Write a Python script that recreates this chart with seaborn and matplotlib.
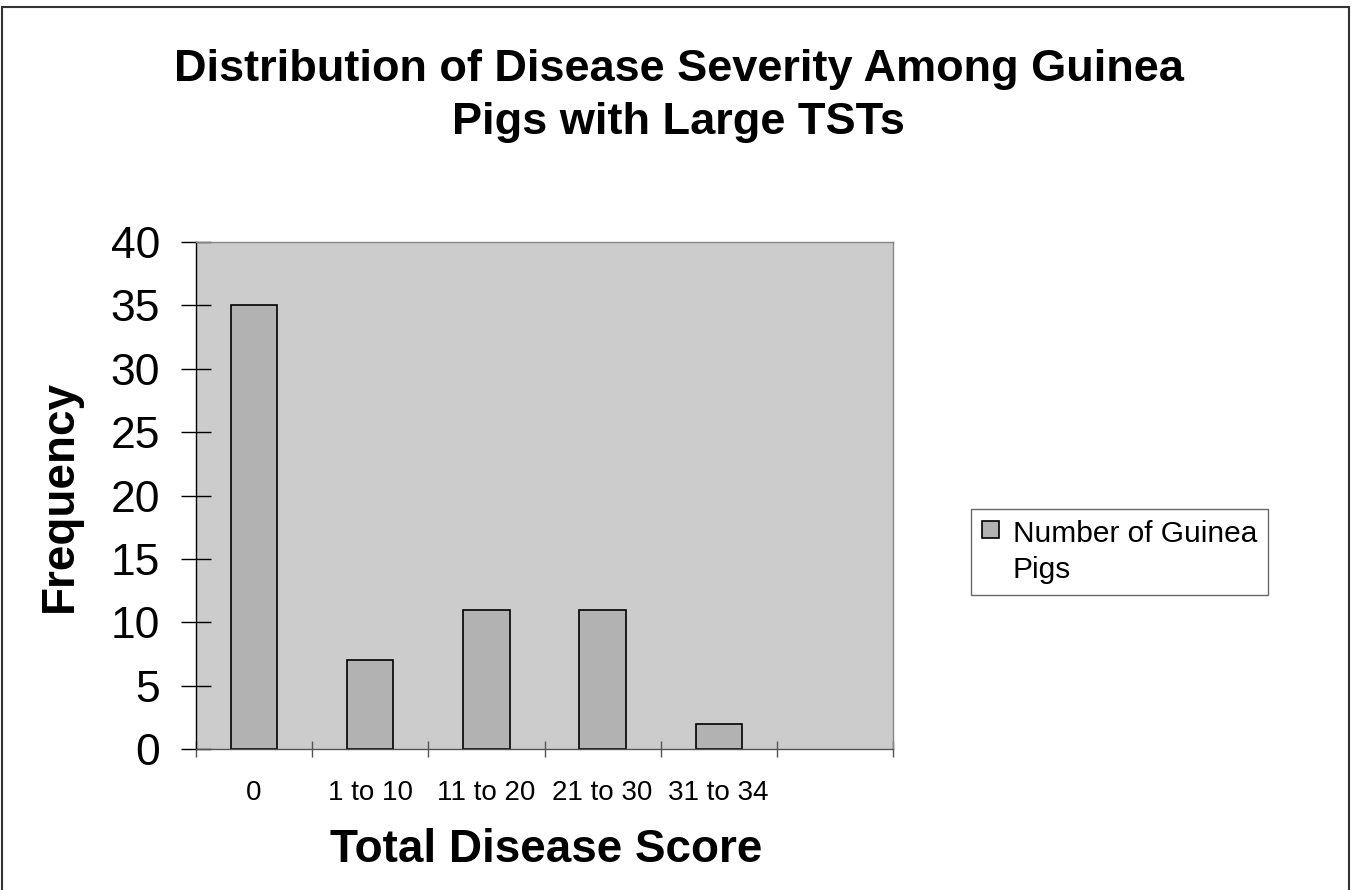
import matplotlib
matplotlib.use("Agg")
import matplotlib.pyplot as plt
from matplotlib.patches import Rectangle
from matplotlib.legend_handler import HandlerPatch
import seaborn as sns
import pandas as pd

# Disease score bins and guinea-pig counts
score_bins = ["0", "1 to 10", "11 to 20", "21 to 30", "31 to 34"]
pig_counts = [35, 7, 11, 11, 2]
series_name = "Number of Guinea\nPigs"
y_ticks = [0, 5, 10, 15, 20, 25, 30, 35, 40]

df = pd.DataFrame({"bin": score_bins, "count": pig_counts, "series": series_name})

sns.set_theme(style="white")
plt.rcParams["font.family"] = ["Liberation Sans", "DejaVu Sans"]
plt.rcParams.update({"text.color": "black", "axes.labelcolor": "black",
                     "xtick.color": "black", "ytick.color": "black"})

fig = plt.figure(figsize=(13.57, 8.9), dpi=100)
ax = fig.add_axes([196 / 1357, 141 / 890, 697 / 1357, 507 / 890])
ax.set_facecolor("#CCCCCC")

sns.barplot(data=df, x="bin", y="count", hue="series", order=score_bins,
            palette=["#B2B2B2"], width=0.4, edgecolor="black", linewidth=1.2,
            saturation=1, ax=ax, legend=True)

ax.set_xlim(-0.5, 5.5)
ax.set_ylim(0, 40)
ax.set_yticks(y_ticks)
ax.tick_params(axis="y", direction="inout", length=22, width=1, color="black",
               labelsize=32, pad=15, left=True)
ax.set_xticks(range(len(score_bins)))
ax.set_xticklabels(score_bins)
ax.set_xticks([i - 0.5 for i in range(7)], minor=True)
ax.tick_params(axis="x", which="major", length=0, labelsize=20, pad=22)
ax.tick_params(axis="x", which="minor", direction="inout", length=12, width=1,
               color="#555555", bottom=True)

for side in ["top", "right"]:
    ax.spines[side].set_visible(True)
    ax.spines[side].set_color("#888888")
    ax.spines[side].set_linewidth(1)
ax.spines["left"].set_color("black")
ax.spines["left"].set_linewidth(1)
ax.spines["bottom"].set_color("#555555")
ax.spines["bottom"].set_linewidth(1)

ax.set_ylabel("Frequency", fontsize=33, fontweight="bold", va="center")
ax.yaxis.set_label_coords((60 - 196) / 697, 0.5)
ax.set_xlabel("Total Disease Score", fontsize=33, fontweight="bold", va="center")
ax.xaxis.set_label_coords(0.503, -0.199)

fig.text(0.5, 1 - 96 / 890,
         "Distribution of Disease Severity Among Guinea\nPigs with Large TSTs",
         ha="center", va="center", fontsize=32.5, fontweight="bold", linespacing=1.4)


def first_line_square(legend, orig_handle, xdescent, ydescent, width, height, fontsize):
    side = 0.56 * fontsize
    return Rectangle((-xdescent, -ydescent + 0.8 * fontsize), side, side)


handles, labels = ax.get_legend_handles_labels()
ax.get_legend().remove()
leg = fig.legend(handles, labels, loc="center left",
                 bbox_to_anchor=(971 / 1357, 1 - 552 / 890),
                 fontsize=21.5, frameon=True, fancybox=False, shadow=False,
                 handlelength=0.56, handleheight=0.56, handletextpad=0.45,
                 borderpad=0.38, borderaxespad=0, labelspacing=0.1,
                 handler_map={Rectangle: HandlerPatch(patch_func=first_line_square)})
leg.get_frame().set_edgecolor("#444444")
leg.get_frame().set_linewidth(1)
leg.get_frame().set_boxstyle("square", pad=0)
for t in leg.get_texts():
    t.set_linespacing(1.35)

fig.patches.append(Rectangle((2 / 1357, -0.02), 1347 / 1357, 1 - 7 / 890 + 0.02,
                             transform=fig.transFigure, fill=False,
                             edgecolor="#333333", linewidth=1.5))

fig.savefig("out.png", dpi=100)
